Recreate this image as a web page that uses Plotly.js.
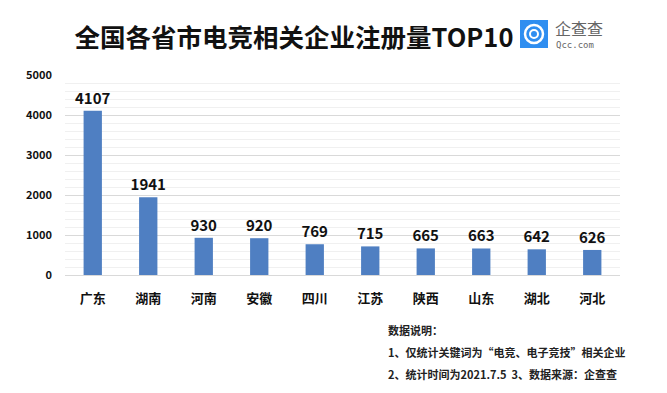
<!DOCTYPE html>
<html><head><meta charset="utf-8">
<script src="https://cdn.plot.ly/plotly-3.0.1.min.js"></script>
<style>body{margin:0;background:#fff}#c{width:667px;height:393px}</style>
</head><body><div id="c"></div>
<script>
const provinces = ["广东","湖南","河南","安徽","四川","江苏","陕西","山东","湖北","河北"];
const counts = [4107,1941,930,920,769,715,665,663,642,626];
const yTicks = [0,1000,2000,3000,4000,5000];
const titleText = "全国各省市电竞相关企业注册量TOP10";
const notes = ["数据说明：","1、仅统计关键词为“电竞、电子竞技”相关企业","2、统计时间为2021.7.5  3、数据来源：企查查"];

const W=667,H=393,L=65,R=620,T=75,B=275;
const px=x=>(x-L)/(R-L), py=y=>(B-y)/(B-T);
const FONT='"Noto Sans CJK SC", "Noto Sans", sans-serif';

const trace={type:'bar',x:provinces,y:counts,marker:{color:'#4f7fc2'},
  text:counts.map(String),textposition:'outside',cliponaxis:false,constraintext:'none',
  textfont:{family:FONT,size:15,color:'#111',weight:'bold'},hoverinfo:'none'};

const ann=[];
notes.forEach((t,i)=>ann.push({xref:'paper',yref:'paper',x:px(386),y:py(330+22*i),xanchor:'left',yanchor:'middle',
  text:t,showarrow:false,font:{family:FONT,size:11,color:'#222',weight:'bold'}}));
ann.push({xref:'paper',yref:'paper',x:px(553),y:py(28),xanchor:'left',yanchor:'middle',text:'企查查',showarrow:false,
  font:{family:FONT,size:16,color:'#666'}});
ann.push({xref:'paper',yref:'paper',x:px(554),y:py(45),xanchor:'left',yanchor:'middle',text:'Qcc.com',showarrow:false,
  font:{family:'DejaVu Sans Mono, monospace',size:9,color:'#666'}});

const shapes=[
  {type:'rect',xref:'paper',yref:'paper',x0:px(520),x1:px(548),y0:py(48),y1:py(20),fillcolor:'#2f8ef0',line:{width:0}},
  {type:'circle',xref:'paper',yref:'paper',x0:px(525),x1:px(543),y0:py(43),y1:py(25),fillcolor:'rgba(0,0,0,0)',line:{color:'#fff',width:2.5}},
  {type:'circle',xref:'paper',yref:'paper',x0:px(530),x1:px(538),y0:py(38),y1:py(30),fillcolor:'rgba(0,0,0,0)',line:{color:'#fff',width:2}},
];

const layout={width:W,height:H,margin:{l:L,r:W-R,t:T,b:H-B},paper_bgcolor:'#fff',plot_bgcolor:'#fff',
  showlegend:false,bargap:0.67,
  title:{text:titleText,x:294/W,xanchor:'center',y:1-38/H,yanchor:'middle',font:{family:FONT,size:25.5,color:'#111',weight:'bold'}},
  xaxis:{type:'category',showline:false,ticks:'',ticklabelstandoff:14,tickfont:{family:FONT,size:13,color:'#111',weight:'bold'},fixedrange:true},
  yaxis:{range:[0,5000],tickvals:yTicks,ticktext:yTicks.map(String),showgrid:true,gridcolor:'#d9d9d9',gridwidth:1,zeroline:true,zerolinecolor:'#d9d9d9',
    minor:{dtick:200,showgrid:true,gridcolor:'#f0f0f0',gridwidth:1},ticks:'',ticklabelstandoff:12,
    tickfont:{family:FONT,size:11,color:'#111',weight:'bold'},fixedrange:true},
  annotations:ann,shapes:shapes};
Plotly.newPlot('c',[trace],layout,{displayModeBar:false,staticPlot:true});
</script></body></html>
